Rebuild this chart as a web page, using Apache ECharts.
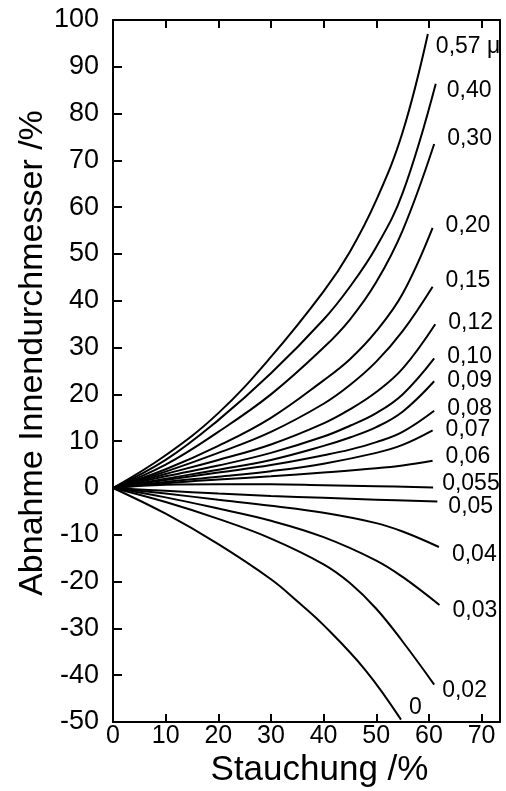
<!DOCTYPE html>
<html>
<head>
<meta charset="utf-8">
<script src="https://cdn.jsdelivr.net/npm/echarts@6/dist/echarts.min.js"></script>
<style>
  html, body { margin: 0; padding: 0; background: #fff; }
  #chart { width: 506px; height: 791px; }
</style>
</head>
<body>
<div id="chart"></div>
<script>
// Abnahme des Innendurchmessers über der Stauchung, je Reibwert μ
// Each curve: [Stauchung %, Abnahme Innendurchmesser %]
const mu057  = [[0,0],[10,7],[20,16],[30,28],[40,42],[45,50.5],[50,61.5],[55,76],[59.8,97]];
const mu040  = [[0,0],[10,6],[20,14.5],[30,24.5],[40,36],[45,43],[50,51.5],[55,63],[61.3,86.4]];
const mu030  = [[0,0],[10,5],[20,12],[30,20],[40,30],[45,36],[50,44],[55,55],[61,73.5]];
const mu020  = [[0,0],[10,4],[20,9],[30,15],[40,23],[45,27.5],[50,33.5],[55,41.5],[60.7,55.6]];
const mu015  = [[0,0],[10,3.5],[20,7.5],[30,12],[40,18],[45,22],[50,27],[55,33.5],[60.7,43]];
const mu012  = [[0,0],[10,3],[20,6],[30,9.3],[40,13.8],[45,16.8],[50,20.5],[55,25.5],[61.2,35]];
const mu010  = [[0,0],[10,2.5],[20,4.8],[30,7.5],[40,11],[45,13.3],[50,16],[55,20],[61,27.7]];
const mu009  = [[0,0],[10,2],[20,3.9],[30,6],[40,9],[45,10.8],[50,13],[55,16.3],[61,22.8]];
const mu008  = [[0,0],[10,1.7],[20,3.3],[30,4.9],[40,7],[45,8.2],[50,9.8],[55,12],[61,16.5]];
const mu007  = [[0,0],[10,1.3],[20,2.4],[30,3.6],[40,5.2],[50,7.5],[55,9.2],[60.7,12.3]];
const mu006  = [[0,0],[10,1],[20,1.8],[30,2.5],[40,3.3],[50,4.2],[55,4.8],[60.7,5.8]];
const mu0055 = [[0,0],[10,0.7],[20,0.8],[30,0.8],[40,0.6],[50,0.4],[60.8,0.1]];
const mu005  = [[0,0],[10,-0.6],[20,-1.2],[30,-1.7],[40,-2.1],[50,-2.5],[61.6,-2.9]];
const mu004  = [[0,0],[10,-1.2],[20,-2.5],[30,-3.8],[40,-5.3],[50,-7.5],[55,-9.3],[61.9,-12.6]];
const mu003  = [[0,0],[10,-2],[20,-4.4],[30,-7],[40,-10.5],[50,-15.5],[55,-19],[62,-25]];
const mu002  = [[0,0],[10,-3],[20,-6.6],[30,-10.8],[40,-16.3],[45,-20.3],[50,-25.8],[55,-32.8],[61,-42]];
const mu000  = [[0,0],[10,-5.5],[20,-12],[30,-19.5],[35,-24.2],[40,-29.3],[48,-39],[54.7,-49.5]];

const curveNames = ['0,57 μ','0,40','0,30','0,20','0,15','0,12','0,10','0,09','0,08','0,07','0,06','0,055','0,05','0,04','0,03','0,02','0'];
const curveData  = [mu057, mu040, mu030, mu020, mu015, mu012, mu010, mu009, mu008, mu007, mu006, mu0055, mu005, mu004, mu003, mu002, mu000];

const xTicks = [0, 10, 20, 30, 40, 50, 60, 70];
const yTicks = [-50, -40, -30, -20, -10, 0, 10, 20, 30, 40, 50, 60, 70, 80, 90, 100];

// label nudges (px) so the μ labels sit beside their curve ends
const labelOffsets = [[0,13],[3,7],[5,-5],[5,-2],[5,-6],[5,-2],[5,-2],[5,-1],[5,-2],[5,-1],[5,-4],[1,-4],[3,5],[5,8],[5,6],[0,6],[0,-12]];

const FONT = '"Liberation Sans", Arial, sans-serif';

const chart = echarts.init(document.getElementById('chart'), null, { renderer: 'canvas' });

const series = curveData.map((d, i) => ({
  name: curveNames[i],
  type: 'line',
  data: d,
  smooth: 0.4,
  symbol: 'none',
  silent: true,
  lineStyle: { color: '#000', width: 2 },
  endLabel: {
    show: true,
    formatter: '{a}',
    color: '#000',
    fontFamily: FONT,
    fontSize: 23,
    offset: labelOffsets[i]
  },
  z: 3
}));

const xLabelFmt = v => (xTicks.indexOf(v) >= 0 ? String(v) : '');
const yLabelFmt = v => (yTicks.indexOf(v) >= 0 ? String(v) : '');

chart.setOption({
  backgroundColor: '#fff',
  animation: false,
  grid: { left: 113, right: 6, top: 20, bottom: 69, containLabel: false, outerBoundsMode: 'none' },
  xAxis: [
    {
      type: 'value', position: 'bottom', min: 0, max: 73.5, interval: 10,
      name: 'Stauchung /%', nameLocation: 'middle', nameGap: 31, nameMoveOverlap: false,
      nameTextStyle: { fontFamily: FONT, fontSize: 35, color: '#000', padding: [0, 0, 0, 26] },
      axisLine: { show: true, onZero: false, lineStyle: { color: '#000', width: 2 } },
      axisTick: { show: true, inside: true, length: 8, lineStyle: { color: '#000', width: 2 } },
      axisLabel: { formatter: xLabelFmt, fontFamily: FONT, fontSize: 25, color: '#000', margin: 2, showMaxLabel: false },
      splitLine: { show: false }
    },
    {
      type: 'value', position: 'top', min: 0, max: 73.5, interval: 10,
      axisLine: { show: true, onZero: false, lineStyle: { color: '#000', width: 2 } },
      axisTick: { show: true, inside: true, length: 8, lineStyle: { color: '#000', width: 2 } },
      axisLabel: { show: false },
      splitLine: { show: false }
    }
  ],
  yAxis: [
    {
      type: 'value', position: 'left', min: -50, max: 100, interval: 10,
      name: 'Abnahme Innendurchmesser /%', nameLocation: 'middle', nameGap: 63, nameMoveOverlap: false,
      nameTextStyle: { fontFamily: FONT, fontSize: 34, color: '#000', padding: [0, 0, 0, 36] },
      axisLine: { show: true, onZero: false, lineStyle: { color: '#000', width: 2 } },
      axisTick: { show: true, inside: true, length: 9, lineStyle: { color: '#000', width: 2 } },
      axisLabel: { formatter: yLabelFmt, fontFamily: FONT, fontSize: 27, color: '#000', margin: 14 },
      splitLine: { show: false }
    },
    {
      type: 'value', position: 'right', min: -50, max: 100, interval: 10,
      axisLine: { show: true, onZero: false, lineStyle: { color: '#000', width: 2 } },
      axisTick: { show: false },
      axisLabel: { show: false },
      splitLine: { show: false }
    }
  ],
  series: series
});
</script>
</body>
</html>
